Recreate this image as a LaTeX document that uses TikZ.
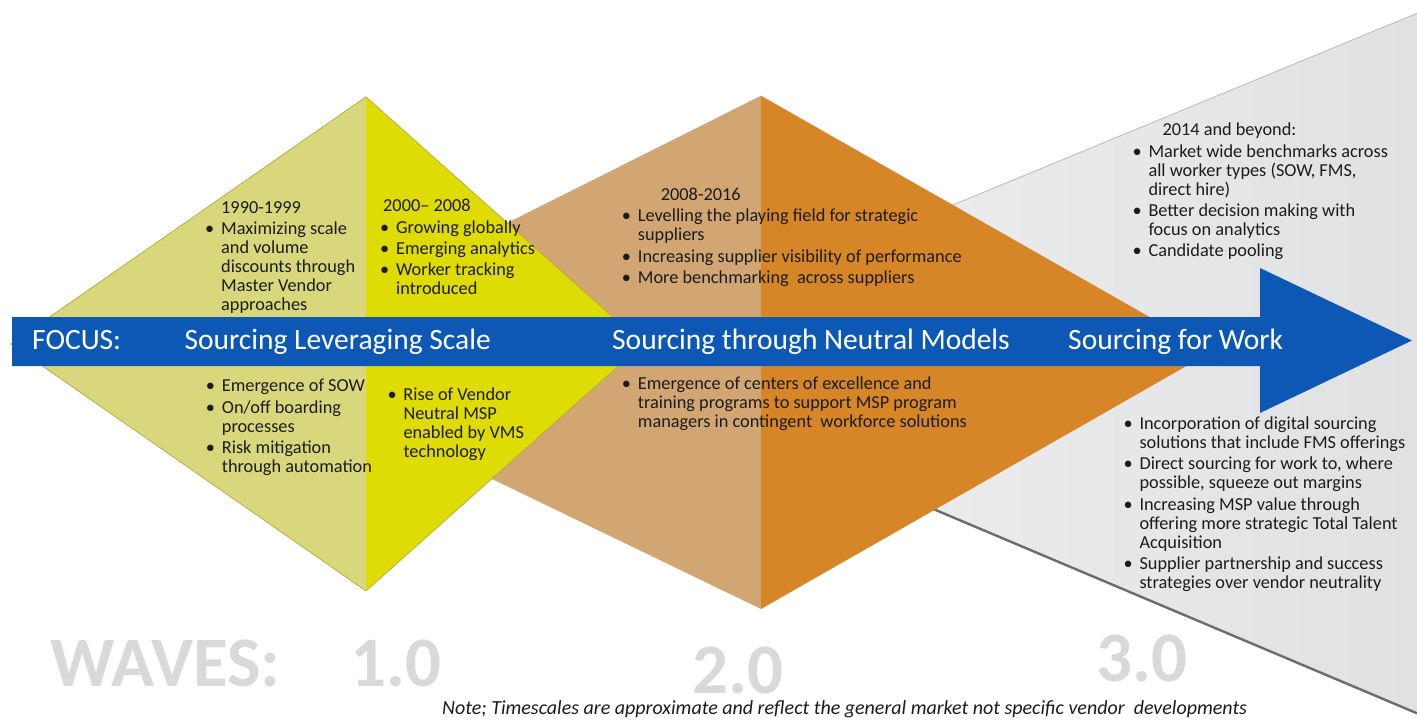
\documentclass[tikz,border=0pt]{standalone}
\usepackage{fontspec}
\setmainfont{Carlito}

\definecolor{ylwL}{RGB}{217,215,123}
\definecolor{ylwR}{RGB}{223,219,4}
\definecolor{ylwEdge}{RGB}{176,172,60}
\definecolor{brnL}{RGB}{209,166,114}
\definecolor{brnR}{RGB}{214,134,38}
\definecolor{grayL}{RGB}{243,243,244}
\definecolor{grayR}{RGB}{224,225,227}
\definecolor{focusblue}{RGB}{14,88,181}
\definecolor{wavegray}{RGB}{217,217,217}
\definecolor{txt}{RGB}{28,28,28}

\newcommand{\bodyfont}{\fontsize{18.3}{19}\selectfont}
\newcommand{\focusfont}{\fontsize{29.5}{30}\selectfont}
\newcommand{\wavefont}{\fontsize{71}{72}\selectfont\bfseries}
\newcommand{\notefont}{\fontsize{20}{22}\selectfont\itshape}
\newcommand{\itm}{\makebox[16pt][l]{\textbullet}}

\begin{document}
\begin{tikzpicture}[x=1pt,y=-1pt]

      \useasboundingbox[fill=white] (0,0) rectangle (1417,722);

      % wave 3.0 backdrop
      \shade[left color=grayL,right color=grayR] (579,359.4) -- (1417,13.3) -- (1417,713.3) -- cycle;
      \draw[gray!55,line width=0.8] (579,359.4) -- (1417,13.3);
      \draw[gray!85!black,line width=2.4] (579,359.4) -- (1417,713.3);

      % wave 2.0 diamond
      \fill[brnL] (761,95.7) -- (239.7,357) -- (761,609) -- cycle;
      \fill[brnR] (761,95.7) -- (1211,352) -- (761,609) -- cycle;

      % wave 1.0 diamond
      \fill[ylwL] (366,96.8) -- (10.8,344) -- (366,591) -- cycle;
      \fill[ylwR] (366,96.8) -- (643,344) -- (366,591) -- cycle;
      \draw[ylwEdge,line width=0.7] (366,96.8) -- (643,344) -- (366,591) -- (10.8,344) -- cycle;

      % focus arrow
      \fill[focusblue] (12,317) -- (1260,317) -- (1260,268) -- (1412,340.5)
        -- (1260,413) -- (1260,366) -- (12,366) -- cycle;

      \begin{scope}[every node/.style={anchor=base west,inner sep=0pt,text=white,font=\focusfont}]
        \node (f0) at (32,349.5)   {FOCUS:};
        \node (f1) at (184.3,349.5) {Sourcing Leveraging Scale};
        \node (f2) at (612,349.5)  {Sourcing through Neutral Models};
        \node (f3) at (1068,349.5) {Sourcing for Work};
      \end{scope}

      \begin{scope}[every node/.style={anchor=base west,inner sep=0pt,text=txt,font=\bodyfont}]

        \node (t1) at (205,213.3) {\begin{tabular}[t]{@{}l@{}l@{}}
            & 1990-1999\\[2.5pt]
            \itm & Maximizing scale\\
            & and volume\\
            & discounts through\\
            & Master Vendor\\
            & approaches
          \end{tabular}};

        \node (t2) at (380,211.7) {\begin{tabular}[t]{@{}l@{}l@{}}
            \multicolumn{2}{@{}l@{}}{\hspace*{3pt}2000– 2008}\\[2.5pt]
            \itm & Growing globally\\[2pt]
            \itm & Emerging analytics\\[2pt]
            \itm & Worker tracking\\
            & introduced
          \end{tabular}};

        \node (t3) at (205.7,391.7) {\begin{tabular}[t]{@{}l@{}l@{}}
            \itm & Emergence of SOW\\[2.5pt]
            \itm & On/off boarding\\
            & processes\\[2.5pt]
            \itm & Risk mitigation\\
            & through automation
          \end{tabular}};

        \node (t4) at (387.3,400) {\begin{tabular}[t]{@{}l@{}l@{}}
            \itm & Rise of Vendor\\
            & Neutral MSP\\
            & enabled by VMS\\
            & technology
          \end{tabular}};

        \node (t5) at (621.7,200.7) {\begin{tabular}[t]{@{}l@{}l@{}}
            & \hspace*{23pt}2008-2016\\[2pt]
            \itm & Levelling the playing field for strategic\\
            & suppliers\\[3pt]
            \itm & Increasing supplier visibility of performance\\[1.5pt]
            \itm & More benchmarking\ \ across suppliers
          \end{tabular}};

        \node (t6) at (621.7,389) {\begin{tabular}[t]{@{}l@{}l@{}}
            \itm & Emergence of centers of excellence and\\
            & training programs to support MSP program\\
            & managers in contingent\ \ workforce solutions
          \end{tabular}};

        \node (t7) at (1132.3,136) {\begin{tabular}[t]{@{}l@{}l@{}}
            & \hspace*{14pt}2014 and beyond:\\[2.3pt]
            \itm & Market wide benchmarks across\\
            & all worker types (SOW, FMS,\\
            & direct hire)\\[2.3pt]
            \itm & Better decision making with\\
            & focus on analytics\\[2pt]
            \itm & Candidate pooling
          \end{tabular}};

        \node (t8) at (1123.3,429.3) {\begin{tabular}[t]{@{}l@{}l@{}}
            \itm & Incorporation of digital sourcing\\
            & solutions that include FMS offerings\\[2.5pt]
            \itm & Direct sourcing for work to, where\\
            & possible, squeeze out margins\\[2.5pt]
            \itm & Increasing MSP value through\\
            & offering more strategic Total Talent\\
            & Acquisition\\[2.5pt]
            \itm & Supplier partnership and success\\
            & strategies over vendor neutrality
          \end{tabular}};
      \end{scope}

      \begin{scope}[every node/.style={anchor=base west,inner sep=0pt,text depth=0pt,text=wavegray,font=\wavefont}]
        \node (w0) at (50.6,686) {WAVES:};
        \node (w1) at (350,686)  {1.0};
        \node (w2) at (692,693)  {2.0};
        \node (w3) at (1096,681) {3.0};
      \end{scope}

      \node[anchor=base west,inner sep=0pt,text=txt,font=\notefont] (note) at (442,714)
        {Note; Timescales are approximate and reflect the general market not specific vendor\ \ developments};

    \end{tikzpicture}
\end{document}
